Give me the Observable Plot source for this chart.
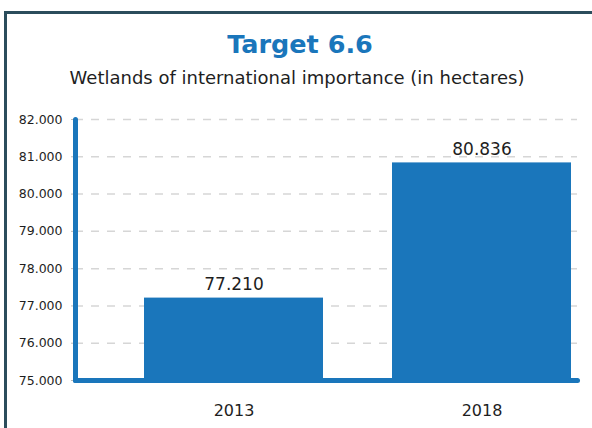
<!DOCTYPE html>
<html>
<head>
<meta charset="utf-8">
<script src="https://cdn.jsdelivr.net/npm/d3@7"></script>
<script src="https://cdn.jsdelivr.net/npm/@observablehq/plot@0.6"></script>
<style>
  html, body { margin: 0; padding: 0; background: #fff; overflow: hidden; }
  body { width: 592px; height: 428px; position: relative; font-family: "DejaVu Sans", sans-serif; }
  #box { position: absolute; left: 4px; top: 11px; width: 700px; height: 500px; border: 3px solid #2b4d5c; box-sizing: border-box; }
  #title { position: absolute; left: 0; width: 600px; top: 29px; text-align: center; color: #1a76bb; font-weight: bold; font-size: 25.5px; }
  #subtitle { position: absolute; left: 0; width: 594px; top: 67px; text-align: center; color: #1e1e1e; font-size: 18px; }
  #chart { position: absolute; left: 0; top: 100px; }
</style>
</head>
<body>
<div id="box"></div>
<div id="title">Target 6.6</div>
<div id="subtitle">Wetlands of international importance (in hectares)</div>
<div id="chart"></div>
<script>
const years = ["2013", "2018"];
const values = [77210, 80836];
const yTicks = [75000, 76000, 77000, 78000, 79000, 80000, 81000, 82000];

const data = years.map((y, i) => ({year: y, value: values[i]}));
const fmt = d3.formatLocale({decimal: ",", thousands: ".", grouping: [3]}).format(",");
const blue = "#1a76bb";

const chart = Plot.plot({
  width: 592,
  height: 328,
  marginLeft: 75,
  marginRight: 15,
  marginTop: 19,
  marginBottom: 48,
  style: {fontFamily: "DejaVu Sans, sans-serif", color: "#1e1e1e", background: "transparent"},
  x: {domain: years, paddingInner: 0.278, paddingOuter: 0.151, align: 0.92, label: null},
  y: {domain: [75000, 82000], label: null},
  marks: [
    Plot.gridY(yTicks.slice(1), {stroke: "#d6d6d6", strokeOpacity: 1, strokeDasharray: "8,8", strokeWidth: 1.5}),
    Plot.axisY(yTicks, {tickFormat: fmt, tickSize: 4, tickPadding: 9, fontSize: 12.5, stroke: "#bbb"}),
    Plot.axisX({tickSize: 0, tickPadding: 24, fontSize: 16}),
    Plot.barY(data, {x: "year", y1: 75000, y2: "value", fill: blue}),
    Plot.text(data, {x: "year", y: "value", text: d => fmt(d.value), dy: -8, lineAnchor: "bottom", fontSize: 17, fill: "#1e1e1e"}),
    Plot.frame({anchor: "left", stroke: blue, strokeWidth: 5, strokeLinecap: "round"}),
    Plot.frame({anchor: "bottom", stroke: blue, strokeWidth: 5, strokeLinecap: "round"})
  ]
});
document.getElementById("chart").appendChild(chart);
</script>
</body>
</html>
